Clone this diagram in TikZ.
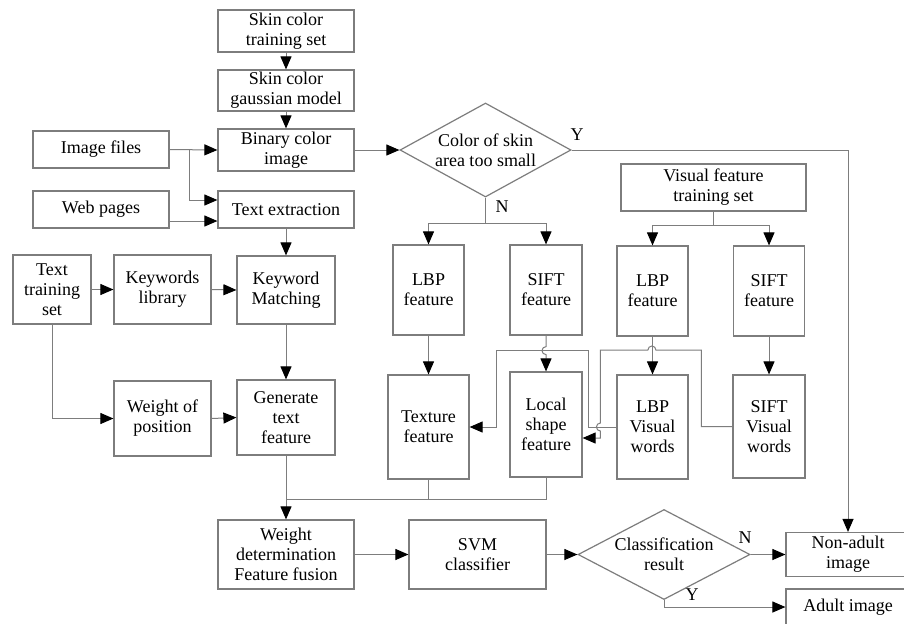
\documentclass[tikz,border=0pt]{standalone}
\usepackage{fontspec}
\setmainfont{Liberation Serif}
\newfontfamily\diagfont{Liberation Serif}
\usetikzlibrary{arrows.meta,shapes.geometric,calc}
\definecolor{linegray}{RGB}{125,125,125}
\begin{document}
\begin{tikzpicture}[x=0.5pt,y=-0.5pt,
  txt/.style={font=\diagfont\fontsize{9}{10}\selectfont},
  box/.style={txt,draw=linegray,line width=0.6pt,align=center,inner sep=0pt},
  decision/.style={txt,diamond,draw=linegray,line width=0.6pt,align=center,
    inner xsep=-30pt,inner ysep=-15pt},
  wire/.style={draw=linegray,line width=0.5pt},
  link/.style={wire,-{Triangle[length=6.5pt,width=5.5pt,black]}},
  tag/.style={txt,inner sep=0pt}]
\useasboundingbox (0,0) rectangle (904,623);
\clip (0,0) rectangle (904,623);
\fill[white] (0,0) rectangle (904,623);

% skin colour branch
\node[box,minimum width=68pt,minimum height=21pt] (skinset) at (286,31) {Skin color\\training set};
\node[box,minimum width=68pt,minimum height=20.5pt] (gauss) at (286,90.5) {Skin color\\gaussian model};
\node[box,minimum width=68pt,minimum height=21pt] (binary) at (286,150) {Binary color\\image};
\node[box,minimum width=68pt,minimum height=18.5pt] (imgfiles) at (101,149.5) {Image files};
\node[box,minimum width=68pt,minimum height=18.5pt] (webpages) at (101,209.5) {Web pages};
\node[box,minimum width=68pt,minimum height=18.5pt] (textext) at (286,209.5) {Text extraction};
\node[decision,minimum width=85.5pt,minimum height=47pt] (d1) at (485.5,150) {Color of skin\\area too small};

% visual features
\node[box,minimum width=35.5pt,minimum height=45pt] (lbp1) at (428.5,290) {LBP\\feature};
\node[box,minimum width=36pt,minimum height=45pt] (sift1) at (546,290) {SIFT\\feature};
\node[box,minimum width=92.5pt,minimum height=23.5pt] (vfts) at (713.5,187.5) {Visual feature\\training set};
\node[box,minimum width=35.5pt,minimum height=45pt] (lbp2) at (652.5,291) {LBP\\feature};
\node[box,minimum width=35.5pt,minimum height=45pt] (sift2) at (769,291) {SIFT\\feature};
\node[box,minimum width=40.5pt,minimum height=52pt] (texture) at (428.5,427) {Texture\\feature};
\node[box,minimum width=36pt,minimum height=52.5pt] (localshape) at (546,424.5) {Local\\shape\\feature};
\node[box,minimum width=35.5pt,minimum height=52pt] (lbpvw) at (652.5,427) {LBP\\Visual\\words};
\node[box,minimum width=36pt,minimum height=51.5pt] (siftvw) at (769,426.5) {SIFT\\Visual\\words};

% text features
\node[box,minimum width=39pt,minimum height=34.5pt] (tts) at (52,289.5) {Text\\training\\set};
\node[box,minimum width=48.5pt,minimum height=34.5pt] (kwlib) at (162.5,289.5) {Keywords\\library};
\node[box,minimum width=49pt,minimum height=34pt] (kwmatch) at (286,290) {Keyword\\Matching};
\node[box,minimum width=48.5pt,minimum height=37.5pt] (wop) at (162.5,418.5) {Weight of\\position};
\node[box,minimum width=49pt,minimum height=37.5pt] (gtf) at (286,417.5) {Generate\\text\\feature};

% fusion and classification
\node[box,minimum width=68pt,minimum height=34.5pt] (wdff) at (286,554.5) {Weight\\determination\\Feature fusion};
\node[box,minimum width=68.5pt,minimum height=34.5pt] (svm) at (477.5,554.5) {SVM\\classifier};
\node[decision,minimum width=86pt,minimum height=45pt] (d2) at (664,554.5) {Classification\\result};
\node[box,minimum width=62pt,minimum height=22pt] (nonadult) at (848,554.5) {Non-adult\\image};
\node[box,minimum width=62pt,minimum height=18pt] (adult) at (848,607) {Adult image};

% decision labels
\node[tag] (y1) at (577,135) {Y};
\node[tag] (n1) at (502,207) {N};
\node[tag] (n2) at (745,538) {N};
\node[tag] (y2) at (692,595) {Y};

% connectors: skin colour branch
\draw[link] (skinset) -- (gauss);
\draw[link] (gauss) -- (binary);
\draw[link] (imgfiles.east) -- (binary.west);
\coordinate (br) at ($(imgfiles.east)+(20,0)$);
\draw[link] (br) |- ($(textext.west)+(0,-9.5)$);
\draw[link] ($(webpages.east)+(0,11.5)$) -- ($(textext.west)+(0,11.5)$);
\draw[link] (binary.east) -- (d1.west);
\draw[link] (d1.east) -| (nonadult.north);
\coordinate (nsplit) at ($(d1.south)+(0,26)$);
\draw[wire] (d1.south) -- (nsplit);
\draw[link] (nsplit) -| (lbp1.north);
\draw[link] (nsplit) -| (sift1.north);
\coordinate (vsplit) at ($(vfts.south)+(0,14)$);
\draw[wire] (vfts.south) -- (vsplit);
\draw[link] (vsplit) -| (lbp2.north);
\draw[link] (vsplit) -| (sift2.north);

% connectors: feature extraction
\draw[link] (lbp1) -- (texture);
\draw[link] (sift1.south) -- ++(0,11) arc[start angle=90,end angle=270,radius=2pt] -- (localshape.north);
\draw[link] (lbp2) -- (lbpvw);
\draw[link] (sift2) -- (siftvw);
\draw[link] (lbpvw.west) -- ++(-28,0) -- ++(0,-77) -- ++(-92,0) |- (texture.east);
\draw[link] (siftvw.west) -- ++(-31,0) -- ++(0,-76.5) -- ++(-45.5,0)
  arc[start angle=0,end angle=180,radius=2pt] -- ++(-47.5,0) -- ++(0,73)
  arc[start angle=90,end angle=270,radius=2pt] |- ($(localshape.east)+(0,13.5)$);

% connectors: text branch
\draw[link] (tts.east) -- (kwlib.west);
\draw[link] (kwlib.east) -- (kwmatch.west);
\draw[link] (textext) -- (kwmatch);
\draw[link] (kwmatch) -- (gtf);
\draw[link] (tts.south) |- (wop.west);
\draw[link] (wop.east) -- (gtf.west);

% connectors: fusion and classification
\coordinate (merge) at ($(gtf.south)+(0,44)$);
\draw[wire] (texture.south) -- (texture.south |- merge);
\draw[wire] (localshape.south) |- (merge);
\draw[link] (gtf.south) -- (wdff.north);
\draw[link] (wdff.east) -- (svm.west);
\draw[link] (svm.east) -- (d2.west);
\draw[link] (d2.east) -- (nonadult.west);
\draw[link] (d2.south) |- (adult.west);
\end{tikzpicture}
\end{document}
